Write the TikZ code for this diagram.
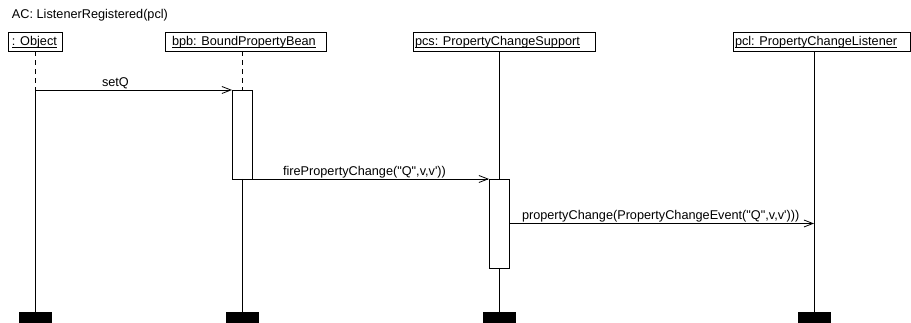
\documentclass[tikz,border=0pt]{standalone}
\usepackage{fontspec}
\setmainfont{Liberation Sans}
\usetikzlibrary{arrows.meta}
\begin{document}
\begin{tikzpicture}[x=1pt,y=-1pt,
  every node/.style={inner sep=0pt, outer sep=0pt, font=\fontsize{12.7}{15}\selectfont},
  objbox/.style={draw, line width=0.8pt, anchor=north west, minimum height=19.5pt},
  objtxt/.style={anchor=base west},
  uline/.style={line width=0.7pt},
  life/.style={line width=0.8pt},
  dashlife/.style={line width=0.8pt, dash pattern=on 5pt off 4pt},
  actbox/.style={draw, fill=white, line width=0.8pt, anchor=north west, minimum width=20pt, minimum height=89pt},
  msg/.style={line width=0.8pt, -{Straight Barb[length=9pt,width=7pt]}},
  endbar/.style={fill=black, anchor=north, minimum width=33pt, minimum height=12pt},
  msglbl/.style={anchor=base west}]
\useasboundingbox (0,0) rectangle (911,323);
\node[anchor=base west] (title) at (12,18.5) {AC: ListenerRegistered(pcl)};
% object boxes
\node[objbox, minimum width=54pt] (objB) at (8,32) {};
\node[objtxt] (objT) at (12,46) {: Object\ };
\draw[uline] ([yshift=-1.5pt]objT.base west) -- ([yshift=-1.5pt]objT.base east);
\node[objbox, minimum width=161pt] (bpbB) at (165,32) {};
\node[objtxt] (bpbT) at (172,46) {bpb: BoundPropertyBean\ };
\draw[uline] ([yshift=-1.5pt]bpbT.base west) -- ([yshift=-1.5pt]bpbT.base east);
\node[objbox, minimum width=182pt] (pcsB) at (413,32) {};
\node[objtxt] (pcsT) at (415,46) {pcs: PropertyChangeSupport\ };
\draw[uline] ([yshift=-1.5pt]pcsT.base west) -- ([yshift=-1.5pt]pcsT.base east);
\node[objbox, minimum width=177pt] (pclB) at (733,32) {};
\node[objtxt] (pclT) at (735,46) {pcl: PropertyChangeListener\ };
\draw[uline] ([yshift=-1.5pt]pclT.base west) -- ([yshift=-1.5pt]pclT.base east);
% end bars
\node[endbar] (objE) at (35,312) {};
\node[endbar] (bpbE) at (242,312) {};
\node[endbar] (pcsE) at (499,312) {};
\node[endbar] (pclE) at (814,312) {};
% activations
\node[actbox] (bpbA) at (232,90) {};
\node[actbox] (pcsA) at (489,179) {};
% lifelines
\coordinate (objM) at (35,90);
\draw[dashlife] (objB.south) -- (objM);
\draw[life] (objM) -- (objE.north);
\draw[dashlife] (bpbB.south -| bpbA.north) -- (bpbA.north);
\draw[life] (bpbA.south) -- (bpbE.north);
\draw[life] (pcsB.south -| pcsA.north) -- (pcsA.north);
\draw[life] (pcsA.south) -- (pcsE.north);
\draw[life] (pclB.south -| pclE.north) -- (pclE.north);
% messages
\draw[msg] (objM) -- (bpbA.north west);
\draw[msg] (bpbA.south east) -- (pcsA.north west);
\coordinate (pcM) at (509,223.5);
\draw[msg] (pcM) -- (pcM -| pclE.north);
\node[msglbl] (l1) at (102,86.5) {setQ};
\node[msglbl] (l2) at (283,175.5) {firePropertyChange(\textquotedbl Q\textquotedbl,v,v\textquotesingle))};
\node[msglbl] (l3) at (522,220) {propertyChange(PropertyChangeEvent(\textquotedbl Q\textquotedbl,v,v\textquotesingle)))};
\end{tikzpicture}
\end{document}
